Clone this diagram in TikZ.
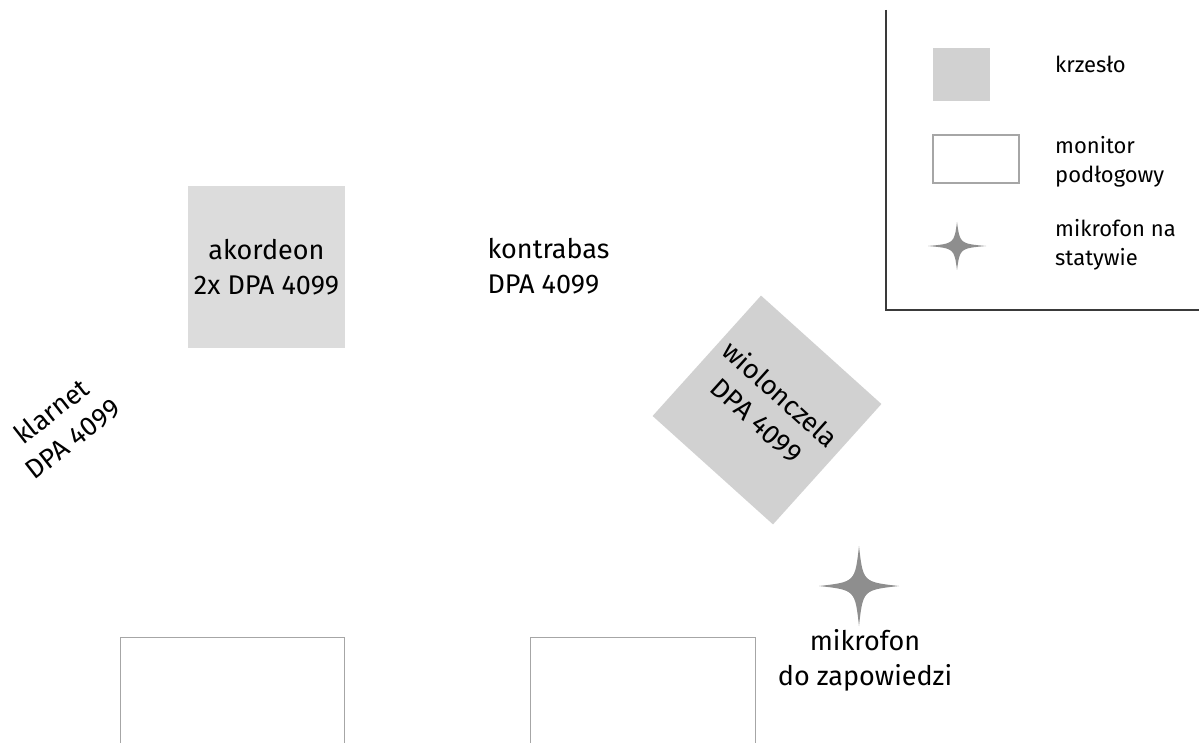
\documentclass[tikz,border=0pt]{standalone}
\usepackage{fontspec}
\setmainfont{Fira Sans}
\definecolor{chair}{HTML}{D1D1D1}
\definecolor{chairlt}{HTML}{DCDCDC}
\definecolor{starfill}{HTML}{8E8E8E}
\definecolor{monline}{HTML}{A6A6A6}
\definecolor{legline}{HTML}{3A3A3A}
\begin{document}
\begin{tikzpicture}[x=1pt,y=-1pt,
  big/.style={font=\fontsize{27}{35}\selectfont, align=center, inner sep=0pt, text=black},
  small/.style={font=\fontsize{22}{29}\selectfont, align=left, anchor=west, inner sep=0pt, text=black},
  chairbox/.style={fill=chair, draw=none, inner sep=0pt},
  monbox/.style={draw=monline, line width=1.3pt, fill=white},
  pics/mstar/.style 2 args={code={
    \fill[starfill] (0,-#2) .. controls (0.1*#1,-0.1*#2) .. (#1,0)
      .. controls (0.1*#1,0.1*#2) .. (0,#2)
      .. controls (-0.1*#1,0.1*#2) .. (-#1,0)
      .. controls (-0.1*#1,-0.1*#2) .. cycle;}}
]
\useasboundingbox (0,0) rectangle (1199,743);
\clip (0,0) rectangle (1199,743);
\fill[white] (0,0) rectangle (1199,743);

% legend frame
\coordinate (legtop) at (886,10);
\coordinate (legcorner) at (886,310);
\coordinate (legright) at (1199,310);
\draw[legline, line width=1.3pt] (legtop) -- (legcorner) -- (legright);

% legend items
\node[chairbox, minimum width=57pt, minimum height=53pt] (legchair) at (961.5,74.5) {};
\node[small] (legchairtxt) at (1055,64) {krzesło};
\node[monbox, minimum width=86pt, minimum height=48pt, inner sep=0pt] (legmon) at (976,159) {};
\node[small] (legmontxt) at (1055,162) {monitor\\podłogowy};
\coordinate (legmic) at (957,246);
\pic at (legmic) {mstar={29}{24}};
\node[small] (legmictxt) at (1055,245) {mikrofon na\\statywie};

% akordeon
\node[chairbox, fill=chairlt, minimum width=157pt, minimum height=162pt] (akord) at (266.5,267) {};
\node[big] (akordtxt) at (266.5,267) {akordeon\\2x DPA 4099};

% kontrabas
\node[big, align=left] (kontra) at (548.5,266) {kontrabas\\DPA 4099};

% wiolonczela
\node[chairbox, minimum width=162pt, minimum height=162pt, rotate=-42] (wiol) at (767,410) {};
\node[big, rotate=-42] (wioltxt) at (769,407) {wiolonczela\\DPA 4099};

% klarnet
\node[big, rotate=38] (klar) at (62,425) {klarnet\\DPA 4099};

% stage microphone
\coordinate (stagemic) at (859,586);
\pic at (stagemic) {mstar={40}{40}};
\node[big] (stagemictxt) at (865,660) {mikrofon\\do zapowiedzi};

% floor monitors (cut off at bottom edge)
\node[monbox, minimum width=224pt, minimum height=140pt, inner sep=0pt, anchor=north west] (monA) at (120,637) {};
\node[monbox, minimum width=225pt, minimum height=140pt, inner sep=0pt, anchor=north west] (monB) at (530,637) {};
\end{tikzpicture}
\end{document}
